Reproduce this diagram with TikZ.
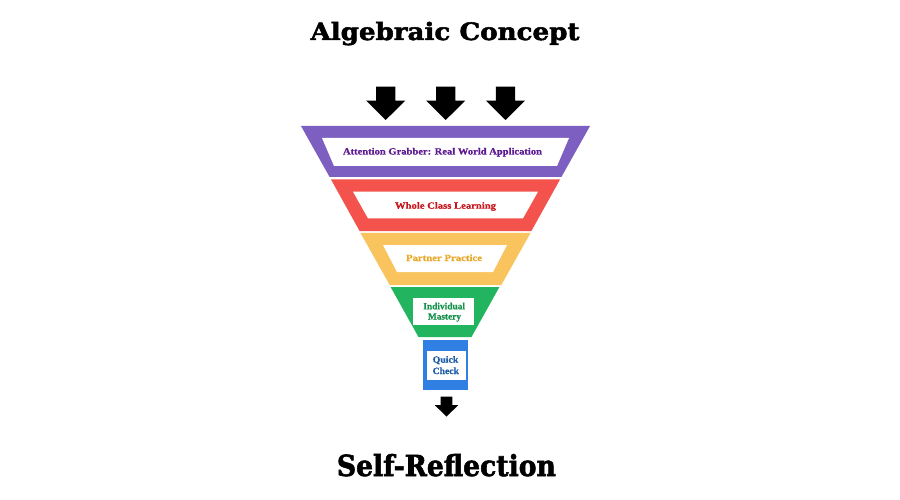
\documentclass[tikz,border=0pt]{standalone}
\usepackage{fontspec}
\usepackage{graphicx}
\setmainfont{Liberation Serif}
\newfontfamily\headfont{DejaVu Serif Bold}[FakeBold=2]
\newfontfamily\labfont{Liberation Serif Bold}[FakeBold=0.6]
\newcommand\fitw[2]{\resizebox{#1}{\height}{#2}}
\definecolor{fpurple}{HTML}{7D5FC1}
\definecolor{fred}{HTML}{F4524C}
\definecolor{fyellow}{HTML}{F9C35E}
\definecolor{fgreen}{HTML}{22B45E}
\definecolor{fblue}{HTML}{2F80E2}
\definecolor{tpurple}{HTML}{5C1991}
\definecolor{tred}{HTML}{C8161D}
\definecolor{tyellow}{HTML}{E9A92A}
\definecolor{tgreen}{HTML}{17924C}
\definecolor{tblue}{HTML}{1E5CA8}
\begin{document}
\begin{tikzpicture}[x=1pt,y=-1pt,
  titletext/.style={anchor=base,font=\headfont\fontsize{#1}{#1}\selectfont,text=black,inner sep=0pt},
  labeltext/.style={anchor=base,font=\labfont\fontsize{9.5}{10}\selectfont,text=#1,inner sep=0pt},
  blockarrow/.pic={\fill[black] (-9.7,0) -- (9.7,0) -- (9.7,14) -- (19.5,14) -- (0,33.3) -- (-19.5,14) -- (-9.7,14) -- cycle;}]
\useasboundingbox[fill=white] (0,0) rectangle (900,500);

% titles
\node[titletext=24] (title) at (445,40) {\fitw{269pt}{Algebraic Concept}};
\node[titletext=29] (result) at (446.4,476) {\fitw{219pt}{Self-Reflection}};

% input arrows
\pic at (385.7,86.7) {blockarrow};
\pic at (445.7,86.7) {blockarrow};
\pic at (505.5,86.7) {blockarrow};

% funnel layers
\fill[fpurple] (301,126) -- (590,126) -- (561.4,177) -- (329.6,177) -- cycle;
\fill[white] (322,138) -- (569,138) -- (557,166) -- (334,166) -- cycle;

\fill[fred] (331,179.5) -- (560,179.5) -- (531.4,231) -- (359.6,231) -- cycle;
\fill[white] (353,191.7) -- (538,191.7) -- (523,218.3) -- (368,218.3) -- cycle;

\fill[fyellow] (360.4,232.8) -- (530.6,232.8) -- (501.3,285) -- (389.7,285) -- cycle;
\fill[white] (383,245) -- (507,245) -- (493,272) -- (397,272) -- cycle;

\fill[fgreen] (390.6,287) -- (499.4,287) -- (471.5,337) -- (418.5,337) -- cycle;
\fill[white] (413,298) rectangle (474,325);

\fill[fblue] (423,340) rectangle (468.3,390);
\fill[white] (426.7,351) rectangle (465.7,380);

% output arrow
\pic[scale=0.6] at (446.5,396.7) {blockarrow};

% labels
\node[labeltext=tpurple] (l1) at (442.5,154.5) {\fitw{199pt}{Attention Grabber: Real World Application}};
\node[labeltext=tred] (l2) at (445.5,208.7) {\fitw{101pt}{Whole Class Learning}};
\node[labeltext=tyellow] (l3) at (444,261) {\fitw{76pt}{Partner Practice}};
\node[labeltext=tgreen] (l4a) at (444.2,309.3) {\fitw{41.7pt}{Individual}};
\node[labeltext=tgreen] (l4b) at (444.5,319.5) {\fitw{33pt}{Mastery}};
\node[labeltext=tblue] (l5a) at (445.5,362.7) {\fitw{25.6pt}{Quick}};
\node[labeltext=tblue] (l5b) at (445.8,374) {\fitw{26.3pt}{Check}};
\end{tikzpicture}
\end{document}
